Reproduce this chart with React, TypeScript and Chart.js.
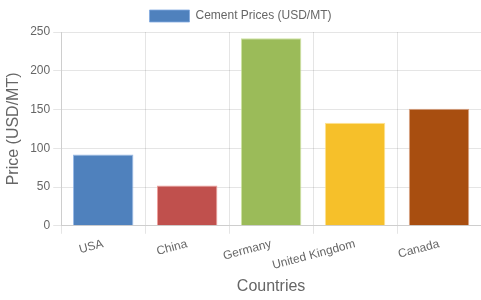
import React, { useEffect, useRef } from "react";
import { Chart, registerables } from "chart.js";

Chart.register(...registerables);

const categories = ["USA", "China", "Germany", "United Kingdom", "Canada"];
const prices = [92, 52, 242, 133, 151];
const barColors = ["#4F81BD", "#C0504D", "#9BBB59", "#F6C02A", "#A84E10"];
const borderColors = [
  "rgba(130,170,225,0.8)",
  "rgba(235,135,130,0.8)",
  "rgba(195,220,140,0.8)",
  "rgba(252,220,120,0.8)",
  "rgba(210,140,100,0.8)",
];
const seriesLabel = "Cement Prices (USD/MT)";

export default function App() {
  const ref = useRef<HTMLCanvasElement | null>(null);
  useEffect(() => {
    document.body.style.margin = "0";
    Chart.defaults.font.family = "'Liberation Sans', Arial, sans-serif";
    Chart.defaults.color = "#666";
    const chart = new Chart(ref.current!, {
      type: "bar",
      data: {
        labels: categories,
        datasets: [
          {
            label: seriesLabel,
            data: prices,
            backgroundColor: barColors,
            borderColor: borderColors,
            borderWidth: 1,
          },
        ],
      },
      options: {
        animation: false,
        responsive: true,
        maintainAspectRatio: false,
        plugins: {
          legend: {
            labels: { boxWidth: 40, font: { size: 12 } },
          },
        },
        scales: {
          x: {
            title: {
              display: true,
              text: "Countries",
              font: { size: 16 },
              padding: { top: 1, bottom: 4 },
            },
            ticks: { minRotation: 15, maxRotation: 15, font: { size: 12 } },
          },
          y: {
            min: 0,
            max: 250,
            ticks: { stepSize: 50, font: { size: 12 } },
            title: { display: true, text: "Price (USD/MT)", font: { size: 16 } },
          },
        },
      },
    });
    return () => chart.destroy();
  }, []);
  return (
    <div style={{ width: 481, height: 300, position: "relative" }}>
      <canvas ref={ref} />
    </div>
  );
}
